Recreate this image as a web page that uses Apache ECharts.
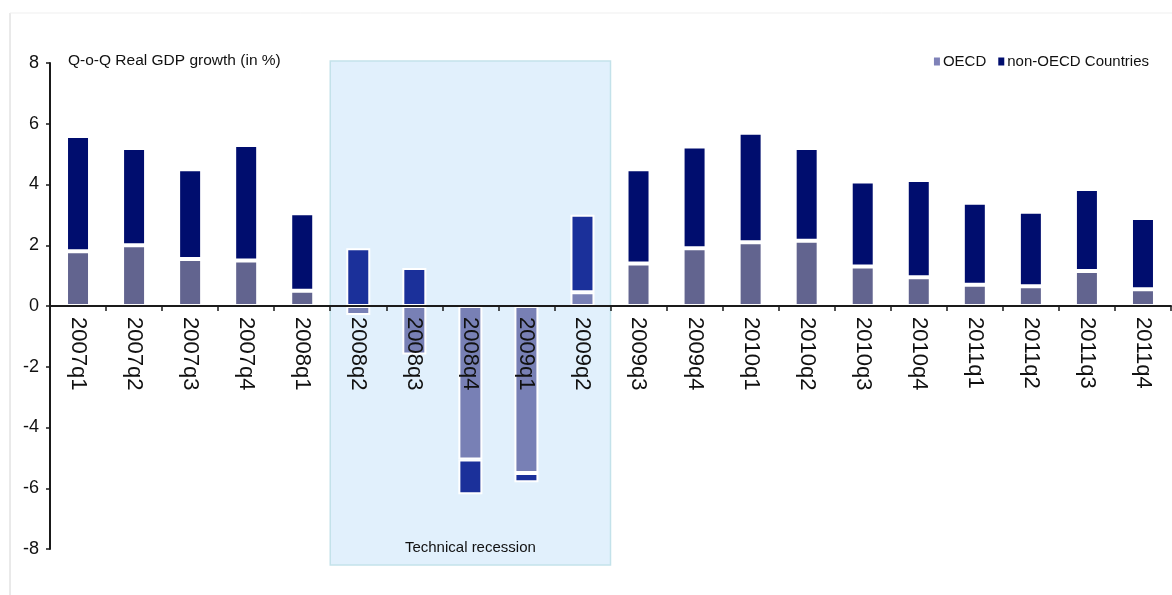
<!DOCTYPE html>
<html>
<head>
<meta charset="utf-8">
<script src="https://cdn.jsdelivr.net/npm/echarts@6/dist/echarts.min.js"></script>
<style>
html,body{margin:0;padding:0;background:#fff;}
#chart{width:1172px;height:595px;}
</style>
</head>
<body>
<div id="chart"></div>
<script>
const categories = ['2007q1','2007q2','2007q3','2007q4','2008q1','2008q2','2008q3','2008q4','2009q1','2009q2',
  '2009q3','2009q4','2010q1','2010q2','2010q3','2010q4','2011q1','2011q2','2011q3','2011q4'];
const oecd =    [1.8, 2.0, 1.55, 1.5, 0.5, -0.3, -1.6, -5.05, -5.5, 0.45, 1.4, 1.9, 2.1, 2.15, 1.3, 0.95, 0.7, 0.65, 1.15, 0.55];
const nonOecd = [3.8, 3.2, 2.95, 3.8, 2.55, 1.9, 1.25, -1.15, -0.3, 2.55, 3.1, 3.35, 3.6, 3.05, 2.8, 3.2, 2.7, 2.45, 2.7, 2.35];
const seriesNames = ['OECD', 'non-OECD Countries'];
const titleText = 'Q-o-Q Real GDP growth (in %)';
const recessionStart = '2008q2';
const recessionEnd = '2009q2';
const recessionLabel = 'Technical recession';

const REG = '"Liberation Sans", Arial, sans-serif';
const TXT = '#111111';
const colOecd = '#62648f', colOecdRec = '#7880b5';
const colNon = '#000d6e', colNonRec = '#1b309a';

const i0 = categories.indexOf(recessionStart), i1 = categories.indexOf(recessionEnd);
function items(vals, rec) {
  return vals.map((v, i) => (i >= i0 && i <= i1) ? { value: v, itemStyle: { color: rec } } : v);
}

const chart = echarts.init(document.getElementById('chart'), null, { renderer: 'canvas' });
const option = {
  animation: false,
  backgroundColor: '#fff',
  title: {
    text: titleText, left: 63, top: 48,
    textStyle: { fontFamily: REG, fontSize: 15.5, fontWeight: 'normal', color: TXT }
  },
  legend: {
    data: [
      { name: seriesNames[0], itemStyle: { color: '#7f82b8', borderWidth: 0 } },
      { name: seriesNames[1], itemStyle: { color: colNon, borderWidth: 0 } }
    ],
    right: 18, top: 49, icon: 'rect', itemWidth: 6, itemHeight: 8, itemGap: 12,
    textStyle: { fontFamily: REG, fontSize: 15, color: TXT, padding: [0, 0, 0, -2] }
  },
  grid: { left: 50, right: 1, top: 63, bottom: 46, containLabel: false, outerBoundsMode: 'none' },
  xAxis: {
    type: 'category', data: categories, z: 5,
    axisLine: { onZero: false, lineStyle: { color: '#1a1a1a', width: 2 } },
    axisTick: { show: true, length: 5, inside: false, lineStyle: { color: '#1a1a1a', width: 1.5 } },
    axisLabel: { rotate: -90, margin: 11, fontFamily: REG, fontSize: 22, color: TXT, interval: 0 }
  },
  yAxis: {
    type: 'value', min: -8, max: 8, interval: 2,
    splitLine: { show: false },
    axisLine: { show: true, lineStyle: { color: '#1a1a1a', width: 2 } },
    axisTick: { show: true, length: 4, lineStyle: { color: '#1a1a1a', width: 1.5 } },
    axisLabel: { margin: 11, fontFamily: REG, fontSize: 18, color: TXT }
  },
  series: [
    { name: seriesNames[0], type: 'bar', stack: 'gdp', barWidth: 24,
      data: items(oecd, colOecdRec),
      itemStyle: { color: colOecd, borderColor: '#ffffff', borderWidth: 2 } },
    { name: seriesNames[1], type: 'bar', stack: 'gdp', barWidth: 24,
      data: items(nonOecd, colNonRec),
      itemStyle: { color: colNon, borderColor: '#ffffff', borderWidth: 2 } }
  ]
};
chart.setOption(option);

// place category axis at y = 0 using the value scale
const y0 = chart.convertToPixel({ yAxisIndex: 0 }, 0);
const yMinPx = chart.convertToPixel({ yAxisIndex: 0 }, -8);
const yTop = chart.convertToPixel({ yAxisIndex: 0 }, 8);
chart.setOption({ xAxis: { offset: -(yMinPx - y0) } });

// recession box from library scales
const cA = chart.convertToPixel({ xAxisIndex: 0 }, categories[i0]);
const cB = chart.convertToPixel({ xAxisIndex: 0 }, categories[i0 + 1]);
const band = cB - cA;
const cE = chart.convertToPixel({ xAxisIndex: 0 }, categories[i1]);
const bx0 = cA - band / 2, bx1 = cE + band / 2;
chart.setOption({
  graphic: [
    { type: 'line', shape: { x1: 10, y1: 13, x2: 10, y2: 595 }, style: { stroke: '#d4d4d4', lineWidth: 1 }, z: -1 },
    { type: 'line', shape: { x1: 10, y1: 13, x2: 1172, y2: 13 }, style: { stroke: '#efefef', lineWidth: 1 }, z: -1 },
    { type: 'rect', shape: { x: bx0, y: yTop - 2, width: bx1 - bx0, height: (yMinPx + 16) - (yTop - 2) },
      style: { fill: '#e1f0fc', stroke: '#c3e2ea', lineWidth: 1.5 }, z: -1 },
    { type: 'text', x: (bx0 + bx1) / 2, y: yMinPx - 1,
      style: { text: recessionLabel, fontFamily: REG, fontSize: 15, fill: TXT, align: 'center', verticalAlign: 'middle' }, z: 10 }
  ]
});
</script>
</body>
</html>
